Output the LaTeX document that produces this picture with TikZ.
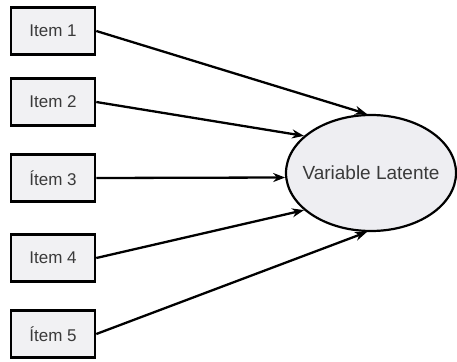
\documentclass[tikz,border=0pt]{standalone}
\usepackage{fontspec}
\setmainfont{Liberation Sans}
\usetikzlibrary{shapes.geometric,arrows.meta}
\definecolor{boxfill}{HTML}{F1F1F3}
\definecolor{ovalfill}{HTML}{EEEEF2}
\definecolor{labelgray}{HTML}{3A3A3A}
\begin{document}
\begin{tikzpicture}[x=1pt,y=-1pt,
  itembox/.style={draw=black, line width=2.6pt, fill=boxfill, minimum width=84pt,
    minimum height=47pt, inner sep=0pt, text=labelgray, font=\fontsize{17}{17}\selectfont},
  latent/.style={ellipse, draw=black, line width=2.2pt, fill=ovalfill, minimum width=170pt,
    minimum height=116pt, inner sep=0pt},
  latentlabel/.style={text=labelgray, font=\fontsize{19}{19}\selectfont, inner sep=0pt},
  link/.style={line width=2.3pt, -{Stealth[length=12pt,width=9pt]}}]
\useasboundingbox (0,0) rectangle (457,361);
\node[itembox] (i1) at (53,31) {Item 1};
\node[itembox] (i2) at (53,102) {Item 2};
\node[itembox] (i3) at (53,178) {Ítem 3};
\node[itembox] (i4) at (53,258) {Item 4};
\node[itembox] (i5) at (53,334) {Ítem 5};
\node[latent] (lv) at (371,173) {};
\node[latentlabel] (lvtext) at (lv.center) {Variable Latente};
\draw[link] (i1.east) -- (lv.94);
\draw[link] (i2.east) -- (lv.151);
\draw[link] (i3.east) -- (lv.183);
\draw[link] (i4.east) -- (lv.209);
\draw[link] (i5.east) -- (lv.266);
\end{tikzpicture}
\end{document}
